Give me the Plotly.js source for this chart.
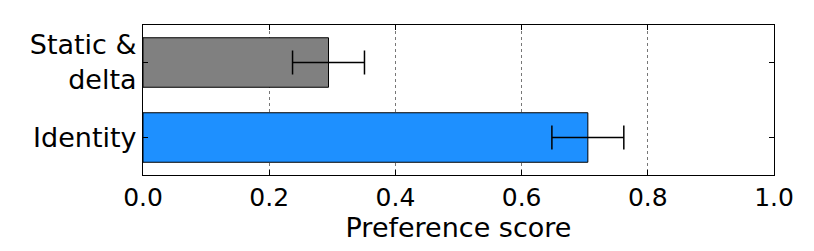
<!DOCTYPE html>
<html>
<head>
<meta charset="utf-8">
<script src="https://cdn.plot.ly/plotly-3.0.1.min.js"></script>
<style>html,body{margin:0;padding:0;background:#fff;}#chart{width:814px;height:251px;}</style>
</head>
<body>
<div id="chart"></div>
<script>
const categories = ["Identity", "Static &<br>delta"];
const scores = [0.705, 0.294];
const errors = [0.057, 0.057];
const colors = ["#1E90FF", "#808080"];
const xTicks = [0.0, 0.2, 0.4, 0.6, 0.8, 1.0];
const xTickLabels = ["0.0", "0.2", "0.4", "0.6", "0.8", "1.0"];

const trace = {
  type: "bar",
  orientation: "h",
  y: categories,
  x: scores,
  width: 0.66,
  marker: {color: colors, line: {color: "#000", width: 1}},
  error_x: {type: "data", array: errors, visible: true, color: "#000", thickness: 1.5, width: 12}
};

const layout = {
  width: 814, height: 251,
  margin: {l: 143, r: 40, t: 25, b: 76},
  paper_bgcolor: "#fff", plot_bgcolor: "#fff",
  font: {family: "DejaVu Sans", size: 26, color: "#000"},
  showlegend: false,
  xaxis: {
    range: [0, 1], tickvals: xTicks, ticktext: xTickLabels,
    ticks: "inside", ticklen: 5, tickcolor: "#000", tickwidth: 1,
    showline: true, linecolor: "#000", linewidth: 1, mirror: "ticks",
    showgrid: true, gridcolor: "#777", griddash: "dot", gridwidth: 1,
    zeroline: false,
    tickfont: {size: 25},
    title: {text: "Preference score", font: {size: 27}, standoff: 4}
  },
  yaxis: {
    type: "category", range: [-0.5, 1.5],
    ticks: "inside", ticklen: 5, tickcolor: "#000", tickwidth: 1,
    showline: true, linecolor: "#000", linewidth: 1, mirror: "ticks",
    showgrid: false, zeroline: false,
    tickfont: {size: 27}
  }
};

Plotly.newPlot("chart", [trace], layout, {displayModeBar: false, staticPlot: true});
</script>
</body>
</html>
